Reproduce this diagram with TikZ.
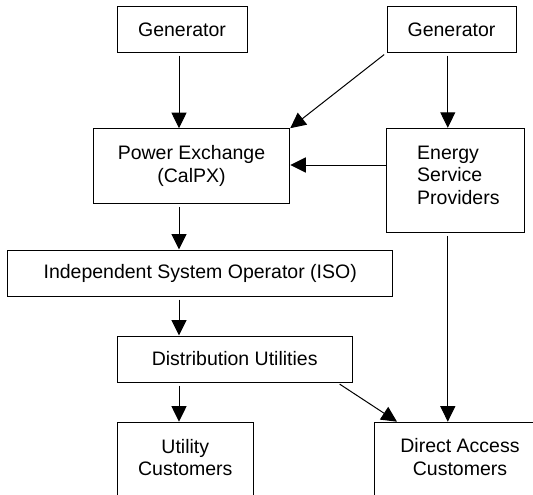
\documentclass[tikz,border=0pt]{standalone}
\usepackage{fontspec}
\setmainfont{Liberation Sans}
\usetikzlibrary{arrows.meta,calc}
\begin{document}
\begin{tikzpicture}[x=1pt,y=-1pt,
  txt/.style={font=\fontsize{19.5}{22.5}\selectfont},
  box/.style={draw,line width=1pt,rectangle,inner sep=0pt,txt,align=center},
  lbl/.style={inner sep=0pt,txt},
  arr/.style={line width=1pt,-{Triangle[length=15.5pt,width=15pt]}},
  gap/.style={shorten <=3pt}]
\useasboundingbox (0,0) rectangle (533,495);
\clip (0,0) rectangle (533,495);
% boxes
\node[box,minimum width=130pt,minimum height=45.5pt] (g1) at (182,29.5) {Generator};
\node[box,minimum width=129pt,minimum height=45.5pt] (g2) at (451.5,29.5) {Generator};
\node[box,minimum width=196.5pt,minimum height=74.6pt] (px) at (191.5,166) {Power Exchange\\(CalPX)};
\node[box,minimum width=138pt,minimum height=104pt] (esp) at (455,180.3) {};
\node[lbl,align=left,anchor=north west] (espT) at (417,145.5) {Energy\\Service\\Providers};
\node[box,minimum width=385.5pt,minimum height=46pt] (iso) at (200.2,273) {Independent System Operator (ISO)};
\node[box,minimum width=235pt,minimum height=46pt] (du) at (234.7,359) {Distribution Utilities};
\node[box,minimum width=136pt,minimum height=100pt,anchor=north west] (uc) at (117.3,421.7) {};
\node[lbl,align=center,anchor=north] (ucT) at (185.3,439) {Utility\\Customers};
\node[box,minimum width=172pt,minimum height=100pt,anchor=north west] (dac) at (374,421.7) {};
\node[lbl,align=center,anchor=north] (dacT) at (460,438.3) {Direct Access\\Customers};
% guide coordinates
\coordinate (xa) at (179,0);
\coordinate (xb) at (447.8,0);
\coordinate (ya) at (0,165);
% connectors
\draw[arr,gap] (xa |- g1.south) -- (xa |- px.north);
\draw[arr,gap] (xb |- g2.south) -- (xb |- esp.north);
\draw[arr,gap] (g2.south west) -- (px.north east);
\draw[arr] (esp.west |- ya) -- (px.east |- ya);
\draw[arr,gap] (xa |- px.south) -- (xa |- iso.north);
\draw[arr,gap] (xa |- iso.south) -- (xa |- du.north);
\draw[arr,gap] (xa |- du.south) -- (xa |- uc.north);
\draw[arr,gap] (xb |- esp.south) -- (xb |- dac.north);
\draw[arr,gap] ($(du.south east)+(-15.5,0)$) -- ($(dac.north west)+(23,0)$);
\end{tikzpicture}
\end{document}
